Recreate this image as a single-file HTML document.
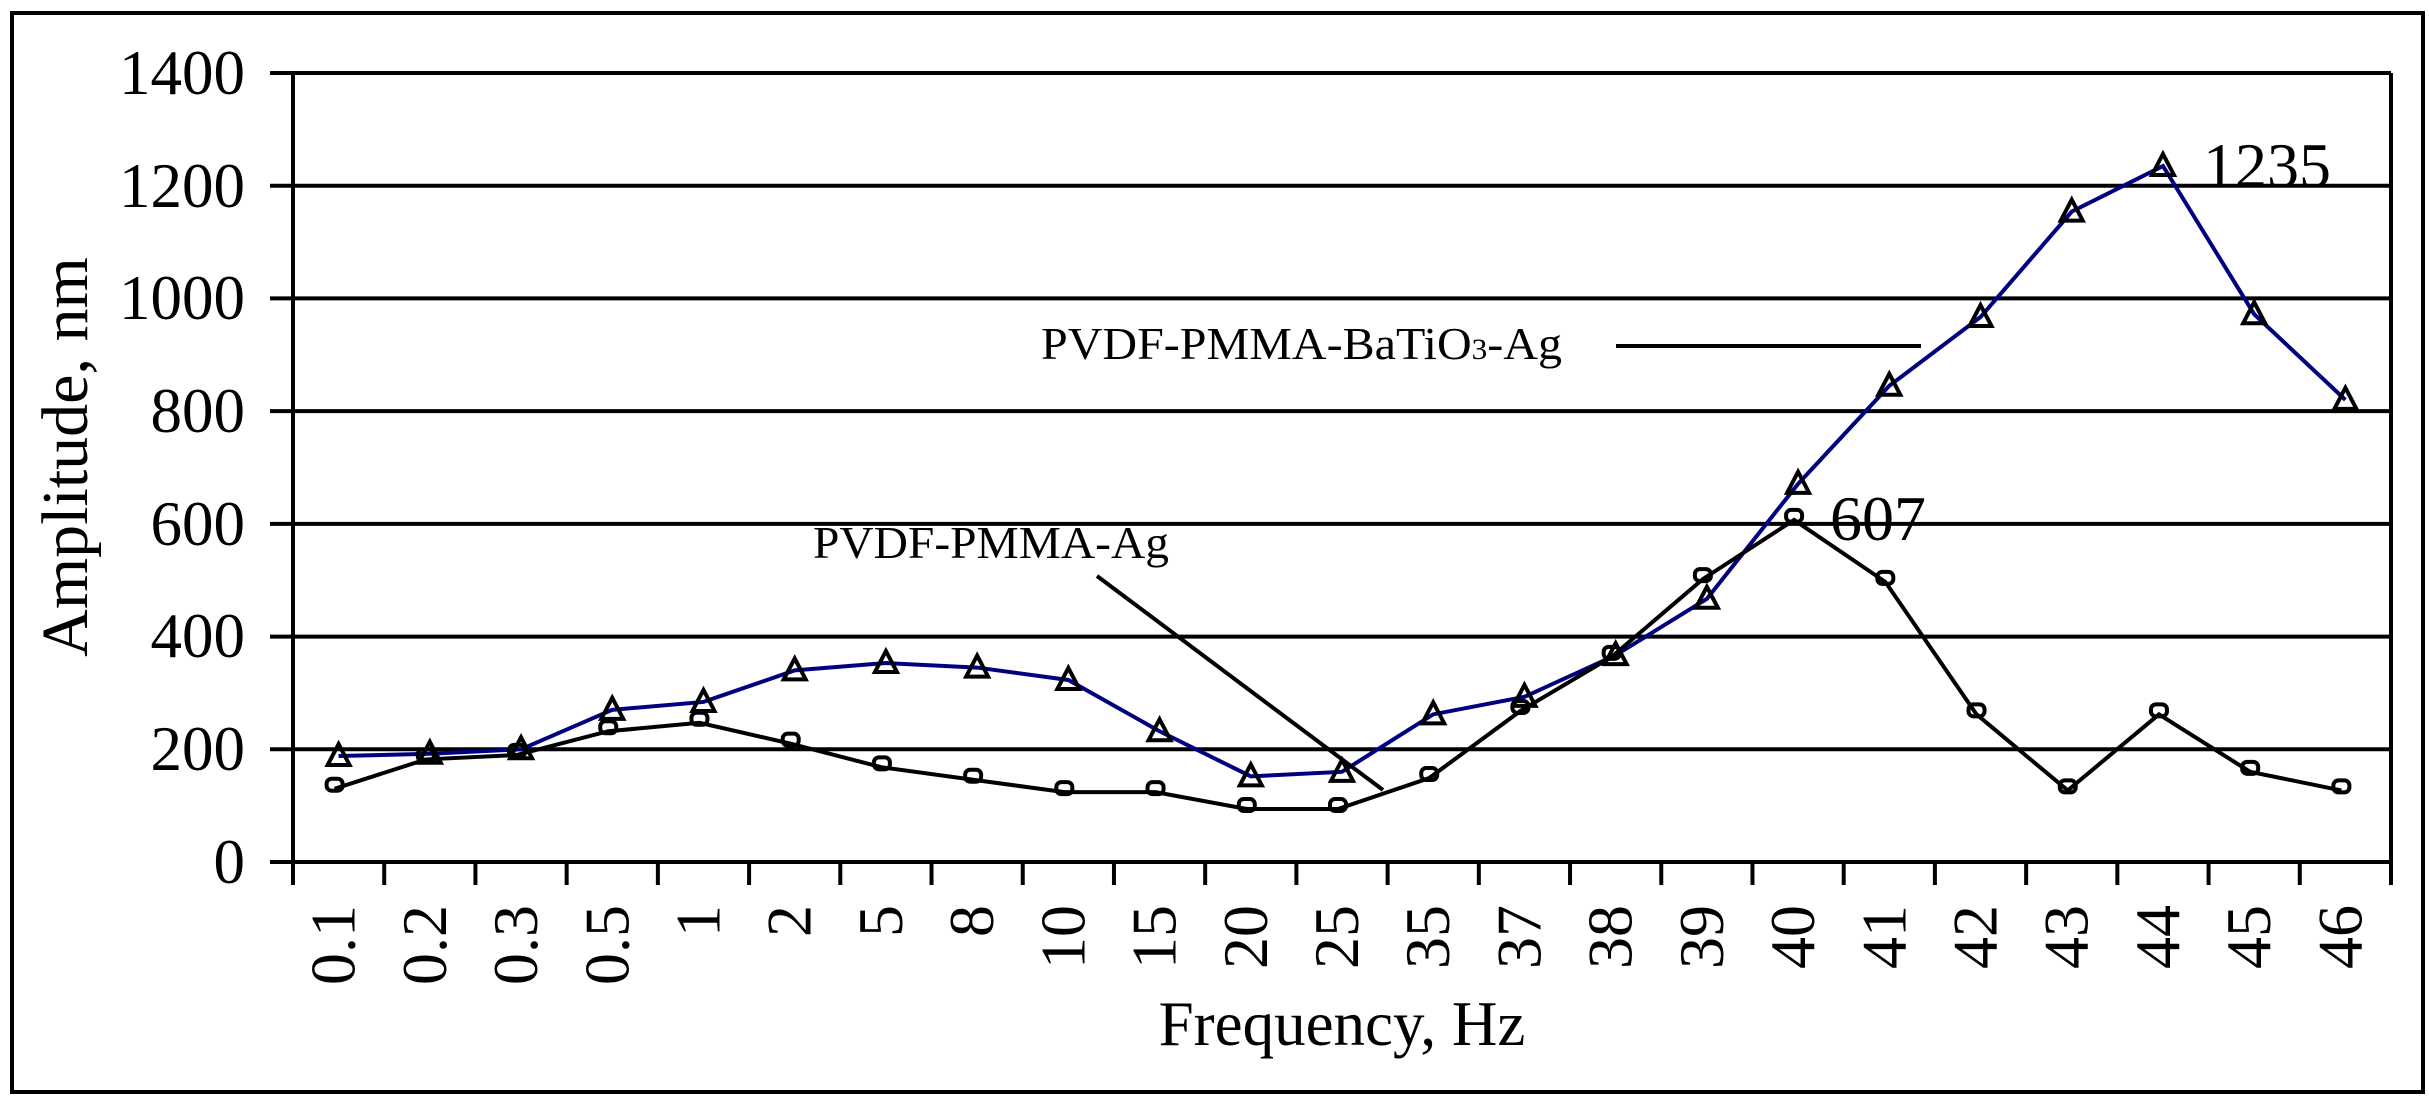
<!DOCTYPE html>
<html><head><meta charset="utf-8"><style>
html,body{margin:0;padding:0;background:#fff;}
svg{display:block;}
text{font-family:"Liberation Serif",serif;fill:#000;}
</style></head><body>
<svg width="2429" height="1100" viewBox="0 0 2429 1100" xmlns="http://www.w3.org/2000/svg">
<rect x="12" y="13" width="2411" height="1079" fill="none" stroke="#000" stroke-width="4"/>
<g stroke="#000" stroke-width="4">
<line x1="270" y1="73" x2="2391" y2="73"/>
<line x1="270" y1="185.7" x2="2391" y2="185.7"/>
<line x1="270" y1="298.4" x2="2391" y2="298.4"/>
<line x1="270" y1="411.1" x2="2391" y2="411.1"/>
<line x1="270" y1="523.9" x2="2391" y2="523.9"/>
<line x1="270" y1="636.6" x2="2391" y2="636.6"/>
<line x1="270" y1="749.3" x2="2391" y2="749.3"/>
<line x1="270" y1="862" x2="2391" y2="862"/>
<line x1="293" y1="73" x2="293" y2="885"/>
<line x1="2391" y1="73" x2="2391" y2="885"/>
</g>
<g id="ticks" stroke="#000" stroke-width="4"></g>
<g font-size="63" text-anchor="end">
<text x="245" y="94">1400</text>
<text x="245" y="207">1200</text>
<text x="245" y="319">1000</text>
<text x="245" y="432">800</text>
<text x="245" y="545">600</text>
<text x="245" y="657">400</text>
<text x="245" y="770">200</text>
<text x="245" y="883">0</text>
</g>
<g id="xl" font-size="64" text-anchor="end"></g>
<text transform="translate(87,457) rotate(-90)" font-size="66" text-anchor="middle">Amplitude, nm</text>
<text x="1342" y="1045" font-size="63" text-anchor="middle">Frequency, Hz</text>
<polyline id="s1" fill="none" stroke="#000080" stroke-width="4"/>
<polyline id="s2" fill="none" stroke="#000" stroke-width="4"/>
<g id="m1" fill="none" stroke="#000" stroke-width="4"></g>
<g id="m2" fill="none" stroke="#000" stroke-width="4"></g>
<text x="1041" y="359" font-size="46" textLength="521" lengthAdjust="spacingAndGlyphs">PVDF-PMMA-BaTiO<tspan font-size="30">3</tspan>-Ag</text>
<line x1="1616" y1="346" x2="1921" y2="346" stroke="#000" stroke-width="4"/>
<text x="813" y="558" font-size="46" textLength="356" lengthAdjust="spacingAndGlyphs">PVDF-PMMA-Ag</text>
<line x1="1097" y1="576" x2="1383" y2="790" stroke="#000" stroke-width="4"/>
<text x="2203" y="187" font-size="64">1235</text>
<text x="1830" y="540" font-size="64">607</text>
</svg>
<script>
var labels=["0.1","0.2","0.3","0.5","1","2","5","8","10","15","20","25","35","37","38","39","40","41","42","43","44","45","46"];
var a=[188,192,200,270,284,340,353,345,323,232,152,160,262,293,367,467,671,845,967,1154,1235,972,820];
var b=[130,182,190,232,247,210,168,146,124,124,94,94,149,268,364,502,607,497,262,127,262,160,127];
var L=293,W=(2391-293)/23,y0=862,k=(862-73)/1400,ns="http://www.w3.org/2000/svg";
function el(t,at,p){var e=document.createElementNS(ns,t);for(var q in at)e.setAttribute(q,at[q]);p.appendChild(e);return e;}
var tk=document.getElementById("ticks"),xl=document.getElementById("xl");
for(var i=0;i<=23;i++){var x=L+W*i;el("line",{x1:x,y1:862,x2:x,y2:885},tk);}
for(var i=0;i<23;i++){var cx=L+W*(i+0.5)+16;var t=el("text",{transform:"translate("+cx+",905) rotate(-90)"},xl);t.textContent=labels[i];}
var p1=[],p2=[],m1=document.getElementById("m1"),m2=document.getElementById("m2");
for(var i=0;i<23;i++){var x=L+W*(i+0.5);var ya=y0-a[i]*k,yb=y0-b[i]*k;
p1.push(x+","+ya);p2.push((x-4)+","+yb);
el("polygon",{points:(x-11)+","+(ya+9)+" "+(x+11)+","+(ya+9)+" "+x+","+(ya-12)},m1);
el("rect",{x:x-12,y:yb-10,width:16,height:12,rx:5},m2);}
document.getElementById("s1").setAttribute("points",p1.join(" "));
document.getElementById("s2").setAttribute("points",p2.join(" "));
</script>
</body></html>
